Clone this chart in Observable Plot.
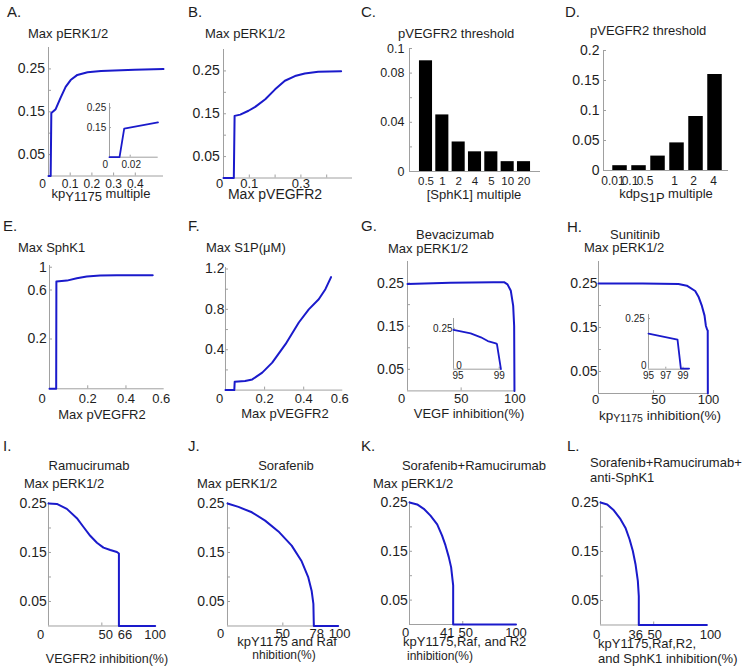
<!DOCTYPE html>
<html><head><meta charset="utf-8">
<script src="https://cdn.jsdelivr.net/npm/d3@7"></script>
<script src="https://cdn.jsdelivr.net/npm/@observablehq/plot@0.6"></script>
<style>
body{margin:0;background:#fff;}
#fig{position:relative;width:746px;height:672px;overflow:hidden;background:#fff;font-family:'Liberation Sans',Arial,Helvetica,sans-serif;color:#1e1e1e}
.t{position:absolute;white-space:nowrap;line-height:1;color:#1e1e1e}
.sb{position:relative}
</style></head><body><div id="fig"></div>
<script>
// ---------- data ----------
// A: Max pERK1/2 vs kpY1175 multiple
const aX = [0, 0.01, 0.013, 0.033, 0.056, 0.079, 0.102, 0.133, 0.18, 0.242, 0.397, 0.53];
const aY = [0, 0, 0.147, 0.156, 0.183, 0.208, 0.224, 0.236, 0.242, 0.245, 0.248, 0.25];
const aInsetX = [0, 0.0097, 0.0142, 0.0468];
const aInsetY = [0, 0, 0.145, 0.176];
// B: Max pERK1/2 vs Max pVEGFR2
const bX = [0, 0.04, 0.043, 0.065, 0.097, 0.123, 0.162, 0.2, 0.238, 0.277, 0.315, 0.367, 0.456];
const bY = [0, 0, 0.145, 0.148, 0.157, 0.166, 0.184, 0.207, 0.227, 0.238, 0.244, 0.248, 0.249];
// C: pVEGFR2 threshold vs [SphK1] multiple
const cCats = ["0.5", "1", "2", "4", "5", "10", "20"];
const cVals = [0.09, 0.046, 0.024, 0.016, 0.016, 0.008, 0.008];
// D: pVEGFR2 threshold vs kdpS1P multiple
const dCats = ["0.01", "0.1", "0.5", "1", "2", "4"];
const dVals = [0.008, 0.008, 0.024, 0.046, 0.09, 0.16];
// E: Max SphK1 (log axis) vs Max pVEGFR2
const eX = [0, 0.035, 0.036, 0.091, 0.143, 0.195, 0.265, 0.352, 0.54];
const eY = [0.0655, 0.0655, 0.725, 0.741, 0.781, 0.811, 0.829, 0.836, 0.836];
const eYLabels = [0.2, 0.6, 1];
// F: Max S1P vs Max pVEGFR2
const fX = [0, 0.045, 0.047, 0.10, 0.137, 0.188, 0.239, 0.307, 0.375, 0.426, 0.477, 0.511, 0.54];
const fY = [0, 0, 0.083, 0.09, 0.106, 0.173, 0.272, 0.455, 0.67, 0.80, 0.90, 1.0, 1.12];
// G: Bevacizumab
const gX = [0, 40, 80, 90, 93.2, 96.3, 98.5, 99.4, 99.7];
const gY = [0.248, 0.251, 0.252, 0.252, 0.247, 0.232, 0.197, 0.151, 0];
const gInsetX = [95, 96.5, 97.4, 98, 98.7, 98.8, 99.15];
const gInsetY = [0.24, 0.219, 0.195, 0.172, 0.158, 0.154, 0];
// H: Sunitinib
const hX = [0, 40, 72.7, 80.3, 87.9, 90.9, 94, 96.4, 97.6, 98.8, 99.3, 99.4];
const hY = [0.25, 0.25, 0.249, 0.245, 0.233, 0.22, 0.199, 0.177, 0.154, 0.145, 0.143, 0];
const hInsetX = [95, 98.36, 98.75, 99.7];
const hInsetY = [0.176, 0.146, 0.003, 0.003];
// I: Ramucirumab
const iX = [0, 7.8, 17.2, 26.6, 32.8, 39.1, 45.4, 51.5, 57.9, 64.1, 66, 66, 100];
const iY = [0.25, 0.249, 0.239, 0.22, 0.202, 0.184, 0.17, 0.16, 0.155, 0.151, 0.148, 0, 0];
// J: Sorafenib
const jX = [0, 9.9, 22, 34, 46, 58, 67, 73, 76, 77.6, 78, 100];
const jY = [0.25, 0.243, 0.232, 0.215, 0.193, 0.164, 0.132, 0.099, 0.072, 0.045, 0, 0];
// K: Sorafenib+Ramucirumab
const kX = [0, 7.2, 13.4, 19.7, 26, 30.6, 33.8, 36.9, 39.1, 41, 41, 100];
const kY = [0.25, 0.246, 0.237, 0.223, 0.205, 0.182, 0.162, 0.138, 0.117, 0.08, 0, 0];
// L: Sorafenib+Ramucirumab+anti-SphK1
const lX = [0, 6.3, 12.5, 18.8, 23.5, 27.3, 30.4, 32.9, 35.1, 36, 36, 100];
const lY = [0.25, 0.246, 0.234, 0.216, 0.198, 0.175, 0.151, 0.124, 0.09, 0.059, 0, 0];

// tick lists
const erkTicks = [0.05, 0.1, 0.15, 0.2, 0.25];
const erkLabels = [0.05, 0.15, 0.25];

// ---------- drawing ----------
const FONT = "'Liberation Sans', Arial, Helvetica, sans-serif";
const BLUE = "#1a1acb";
const GRAY = "#a0a0a0";
const INK = "#1e1e1e";
const fig = document.getElementById("fig");
const zip = (xs, ys) => xs.map((x, i) => ({x, y: ys[i]}));

function panel(c) {
  const yfs = c.yfs || 14, xfs = c.xfs || 13;
  const ml = 60, mr = 24, mt = 12, mb = 40;
  const ts = c.inset ? -2 : -3;
  const marks = [];
  marks.push(Plot.ruleX([c.xd[0]], {stroke: GRAY}));
  marks.push(Plot.ruleY([c.yd[0]], {stroke: GRAY}));
  if (c.yT) marks.push(Plot.axisY(c.yT, {anchor: "left", tickSize: ts, tickFormat: () => "", stroke: GRAY, label: null}));
  if (c.xT) marks.push(Plot.axisX(c.xT, {anchor: "bottom", tickSize: ts, tickFormat: () => "", stroke: GRAY, label: null}));
  for (const l of (c.yL || [])) {
    const [v, dx = 0, dy = 0] = Array.isArray(l) ? l : [l];
    marks.push(Plot.axisY([v], {anchor: "left", tickSize: 0, tickPadding: c.yGap, dx, dy, fontSize: yfs, tickFormat: c.yFmt || String, fill: INK, label: null}));
  }
  if (c.yText) {
    marks.push(Plot.text(c.yText, {y: d => d, text: d => String(d), frameAnchor: "left", textAnchor: "end", dx: -c.yGap, fontSize: yfs, fill: INK}));
  }
  for (const l of (c.xL || [])) {
    const [v, dx = 0] = Array.isArray(l) ? l : [l];
    marks.push(Plot.axisX([v], {anchor: "bottom", tickSize: 0, tickPadding: c.xOff - 0.358 * xfs, dx, fontSize: xfs, tickFormat: c.xFmt || String, fill: INK, label: null}));
  }
  if (c.bars) {
    marks.push(Plot.rectY(c.bars.vals.map((v, i) => ({i, v})), {x1: "i", x2: d => d.i + 1, y: "v", insetLeft: c.bars.inset, insetRight: c.bars.inset, fill: "#000"}));
  }
  for (const ln of (c.lines || [])) {
    marks.push(Plot.line(zip(ln.x, ln.y), {x: "x", y: "y", stroke: BLUE, strokeWidth: c.inset ? 1.8 : 2, strokeLinejoin: "round"}));
  }
  const svg = Plot.plot({
    width: c.x1 - c.x0 + ml + mr,
    height: c.y1 - c.y0 + mt + mb,
    marginLeft: ml, marginRight: mr, marginTop: mt, marginBottom: mb,
    x: {domain: c.xd, axis: null},
    y: {domain: c.yd, type: c.yType || "linear", axis: null},
    style: {fontFamily: FONT, fontSize: yfs + "px", color: INK, background: "transparent", overflow: "visible"},
    marks
  });
  svg.style.position = "absolute";
  svg.style.left = (c.x0 - ml) + "px";
  svg.style.top = (c.y0 - mt) + "px";
  svg.style.maxWidth = "none";
  fig.appendChild(svg);
}

function txt(html, x, baseline, opt = {}) {
  const size = opt.size || 13;
  const d = document.createElement("div");
  d.className = "t";
  d.innerHTML = html;
  d.style.fontSize = size + "px";
  d.style.fontFamily = FONT;
  d.style.left = x + "px";
  d.style.top = (baseline - 0.8465 * size) + "px";
  if (opt.anchor === "middle") d.style.transform = "translateX(-50%)";
  fig.appendChild(d);
}
const sub = (s, shift, size) => `<span class="sb" style="top:${shift}px;${size ? "font-size:" + size + "px" : ""}">${s}</span>`;

// A
panel({x0: 48, x1: 163, y0: 47, y1: 175.5, xd: [0, 0.53], yd: [0, 0.3], xfs: 12,
  yT: erkTicks, yL: erkLabels, yGap: 3.5,
  xT: [0.1, 0.2, 0.3, 0.4], xL: [[0, -6], 0.1, 0.2, 0.3, 0.4], xOff: 7.5,
  lines: [{x: aX, y: aY}]});
// B
panel({x0: 223, x1: 352, y0: 49, y1: 177.5, xd: [0, 0.5], yd: [0, 0.3],
  yT: erkTicks, yL: erkLabels, yGap: 3.7,
  xT: [0.1, 0.2, 0.3, 0.4], xL: [[0, -4], 0.1, 0.3], xOff: 5.5,
  lines: [{x: bX, y: bY}]});
// C
panel({x0: 409, x1: 540, y0: 48, y1: 171, xd: [-0.51, 7.51], yd: [0, 0.1], yfs: 12.5, xfs: 11.5,
  yT: [0.02, 0.04, 0.06, 0.08, 0.1], yL: [0, 0.04, 0.08, 0.1], yGap: 5,
  xL: cCats.map((_, i) => i + 0.5), xFmt: d => cCats[Math.round(d - 0.5)], xOff: 9,
  bars: {vals: cVals, inset: 1.63}});
// D
panel({x0: 603, x1: 728, y0: 49.5, y1: 169.5, xd: [-0.37, 6.21], yd: [0, 0.2], xfs: 12,
  yT: [0.05, 0.1, 0.15, 0.2], yL: [0, 0.05, 0.1, 0.15, 0.2], yGap: 4,
  xL: [[0.5, -7], [1.5, -9], [2.5, -13], [3.5, -2.5], [4.5, -2.5], [5.5, -1.5]],
  xFmt: d => dCats[Math.round(d - 0.5)], xOff: 10.5,
  bars: {vals: dVals, inset: 2.25}});
// E (log-scaled y)
panel({x0: 49.3, x1: 164, y0: 265, y1: 388.3, xd: [0, 0.6], yd: [0.0655, 1.04], yType: "log",
  yT: eYLabels, yText: eYLabels, yGap: 2.6,
  xT: [0.2, 0.4], xL: [[0, -7.5], 0.2, 0.4, [0.6, -3]], xOff: 10,
  lines: [{x: eX, y: eY}]});
// F
panel({x0: 225, x1: 342.3, y0: 266.7, y1: 389.3, xd: [0, 0.6], yd: [0, 1.215],
  yT: [0.2, 0.4, 0.6, 0.8, 1.0, 1.2], yL: [0.4, 0.8, 1.2], yGap: 1,
  xT: [0.2, 0.4], xL: [[0, -6], 0.2, 0.4, [0.6, -3]], xOff: 8.7,
  lines: [{x: fX, y: fY}]});
// G
panel({x0: 406.7, x1: 514, y0: 261.2, y1: 390.6, xd: [0, 100], yd: [0, 0.3],
  yT: erkTicks, yL: erkLabels, yGap: 3.4,
  xT: [50], xL: [[0, -6], 50, 100], xOff: 7.5,
  lines: [{x: gX, y: gY}]});
// H
panel({x0: 598.3, x1: 708.3, y0: 260.7, y1: 392.7, xd: [0, 100], yd: [0, 0.3],
  yT: erkTicks, yL: erkLabels, yGap: 1,
  xT: [50], xL: [[0, -3], [50, 5], 100], xOff: 6,
  lines: [{x: hX, y: hY}]});
// I
panel({x0: 48.3, x1: 155, y0: 501.7, y1: 625.2, xd: [0, 100], yd: [0, 0.252],
  yT: erkTicks, yL: erkLabels, yGap: 1.7,
  xT: [50, 66], xL: [[0, -8], [50, 4], [66, 6], 100], xOff: 8.3,
  lines: [{x: iX, y: iY}]});
// J
panel({x0: 227.3, x1: 338, y0: 501.7, y1: 625.2, xd: [0, 100], yd: [0, 0.252],
  yT: erkTicks, yL: erkLabels, yGap: 3,
  xT: [50, 78], xL: [[0, -7], 50, [78, 3], [100, 1.5]], xOff: 7.7,
  lines: [{x: jX, y: jY}]});
// K
panel({x0: 409, x1: 515.5, y0: 501, y1: 624, xd: [0, 100], yd: [0, 0.252],
  yT: erkTicks, yL: erkLabels, yGap: 1.7,
  xT: [41, 50], xL: [[0, -4], [41, -6], [50, 3], 100], xOff: 7.7,
  lines: [{x: kX, y: kY}]});
// L
panel({x0: 600, x1: 706.4, y0: 501, y1: 624.5, xd: [0, 100], yd: [0, 0.252],
  yT: erkTicks, yL: erkLabels, yGap: 1.7,
  xT: [36, 50], xL: [[0, -4], [36, -3], [50, 1], [100, 3.6]], xOff: 9,
  lines: [{x: lX, y: lY}]});

// insets
panel({inset: true, yfs: 10, xfs: 10, x0: 109.3, x1: 158, y0: 103, y1: 156.7, xd: [0, 0.047], yd: [0, 0.272],
  yT: [0.15, 0.25], yL: [0.15, 0.25], yGap: 3.3,
  xT: [0.02], xL: [[0, -4.3], [0.02, 1]], xOff: 7.3,
  lines: [{x: aInsetX, y: aInsetY}]});
panel({inset: true, yfs: 10, xfs: 10, x0: 452.7, x1: 500.7, y0: 318.3, y1: 369, xd: [95, 99.2], yd: [0, 0.31],
  yT: [0.25], yL: [0.25, [0, 9.3, -3]], yGap: 1,
  xT: [99], xL: [[95, 4.6], 99], xOff: 6,
  lines: [{x: gInsetX, y: gInsetY}]});
panel({inset: true, yfs: 10, xfs: 10, x0: 647.7, x1: 688.3, y0: 314.3, y1: 369, xd: [95, 99.7], yd: [0, 0.27],
  yT: [0.25], yL: [0.25, [0, 1.7, -3.3]], yGap: 3.7,
  xT: [97, 99], xL: [95, 97, 99], xOff: 6,
  lines: [{x: hInsetX, y: hInsetY}]});

// panel letters
[["A.", 7, 17], ["B.", 188, 16.5], ["C.", 361, 16.5], ["D.", 565, 17],
 ["E.", 3, 230.5], ["F.", 188, 230.5], ["G.", 361, 231], ["H.", 567, 231.5],
 ["I.", 3, 450.5], ["J.", 188, 450.5], ["K.", 361, 450.5], ["L.", 567, 450.5]]
  .forEach(([s, x, y]) => txt(s, x, y, {size: 15}));

// titles
txt("Max pERK1/2", 28, 38.5);
txt("Max pERK1/2", 205, 38.5);
txt("pVEGFR2 threshold", 398, 38);
txt("pVEGFR2 threshold", 590, 35.5);
txt("Max SphK1", 18, 252.5);
txt("Max S1P(μM)", 206, 252.5);
txt("Bevacizumab", 455, 239, {anchor: "middle"});
txt("Max pERK1/2", 388, 253);
txt("Sunitinib", 635, 239.5, {anchor: "middle"});
txt("Max pERK1/2", 584, 252.5);
txt("Ramucirumab", 89, 470.5, {anchor: "middle"});
txt("Max pERK1/2", 24, 488.5);
txt("Sorafenib", 286, 470.5, {anchor: "middle"});
txt("Max pERK1/2", 197, 488.5);
txt("Sorafenib+Ramucirumab", 474, 470.5, {anchor: "middle"});
txt("Max pERK1/2", 373, 488.5);
txt("Sorafenib+Ramucirumab+", 590, 467);
txt("anti-SphK1", 590, 482);

// x-axis labels
txt("kp" + sub("Y1175", 3.5) + " multiple", 101, 198, {anchor: "middle"});
txt("Max pVEGFR2", 275, 198.5, {anchor: "middle", size: 14});
txt("[SphK1] multiple", 474, 199, {anchor: "middle"});
txt("kdp" + sub("S1P", 4) + " multiple", 666, 198.5, {anchor: "middle"});
txt("Max pVEGFR2", 102, 419, {anchor: "middle"});
txt("Max pVEGFR2", 285, 418.5, {anchor: "middle"});
txt("VEGF inhibition(%)", 469, 418.3, {anchor: "middle"});
txt("kp" + sub("Y1175", 2, 10.5) + " inhibition(%)", 660, 420.5, {anchor: "middle", size: 13.5});
txt("VEGFR2 inhibition(%)", 107, 664, {anchor: "middle", size: 12.5});
txt("kpY1175 and Raf", 287, 646.5, {anchor: "middle"});
txt("nhibition(%)", 284, 659, {anchor: "middle", size: 12});
txt("kpY1175,Raf, and R2", 403, 646.5);
txt("inhibition(%)", 407, 660, {size: 12});
txt("kpY1175,Raf,R2,", 598, 648.5);
txt("and SphK1 inhibition(%)", 598, 663.5);
</script></body></html>
